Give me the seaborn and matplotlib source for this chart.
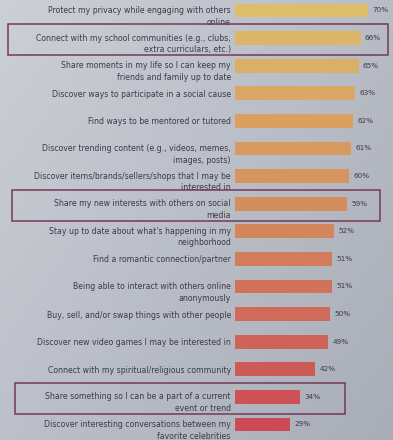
import matplotlib
matplotlib.use("Agg")
import matplotlib.pyplot as plt
import matplotlib.patches as mpatches
import matplotlib.transforms as mtransforms
import numpy as np
import pandas as pd
import seaborn as sns

reasons = [
    "Protect my privacy while engaging with others\nonline",
    "Connect with my school communities (e.g., clubs,\nextra curriculars, etc.)",
    "Share moments in my life so I can keep my\nfriends and family up to date",
    "Discover ways to participate in a social cause",
    "Find ways to be mentored or tutored",
    "Discover trending content (e.g., videos, memes,\nimages, posts)",
    "Discover items/brands/sellers/shops that I may be\ninterested in",
    "Share my new interests with others on social\nmedia",
    "Stay up to date about what's happening in my\nneighborhood",
    "Find a romantic connection/partner",
    "Being able to interact with others online\nanonymously",
    "Buy, sell, and/or swap things with other people",
    "Discover new video games I may be interested in",
    "Connect with my spiritual/religious community",
    "Share something so I can be a part of a current\nevent or trend",
    "Discover interesting conversations between my\nfavorite celebrities",
]
shares = [70, 66, 65, 63, 62, 61, 60, 59, 52, 51, 51, 50, 49, 42, 34, 29]
highlighted = [
    "Connect with my school communities (e.g., clubs,\nextra curriculars, etc.)",
    "Share my new interests with others on social\nmedia",
    "Share something so I can be a part of a current\nevent or trend",
]

df = pd.DataFrame({"reason": reasons, "share": shares})

sns.set_theme(style="white")
text_col = "#3a3b48"

fig = plt.figure(figsize=(3.93, 4.40), dpi=100)

# soft light-to-dark backdrop behind the chart
bg_ax = fig.add_axes([0, 0, 1, 1], zorder=-1)
yy, xx = np.mgrid[0:1:120j, 0:1:120j]
t = np.clip(0.55 * xx + 0.45 * yy, 0, 1)[..., None]
top = np.array([204, 207, 214]) / 255
bottom = np.array([168, 173, 183]) / 255
bg_ax.imshow(top * (1 - t) + bottom * t, aspect="auto", extent=(0, 1, 0, 1),
             origin="upper")
bg_ax.set_axis_off()

ax = fig.add_axes([0.598, 0.004, 0.402, 1.0035])
ax.patch.set_alpha(0)

palette = sns.blend_palette(["#dcbd6a", "#d9a262", "#d48a5c", "#d0685a", "#cc4a56"],
                            len(reasons))
sns.barplot(data=df, x="share", y="reason", hue="reason", palette=palette,
            legend=False, orient="h", width=0.5, saturation=1, linewidth=0,
            ax=ax)

ax.set_xlim(0, 83)
ax.set_ylim(len(reasons) - 0.5, -0.5)
ax.set_xlabel("")
ax.set_ylabel("")
ax.set_xticks([])
sns.despine(ax=ax, left=True, bottom=True)
ax.tick_params(axis="y", length=0, pad=3)
shift_down = mtransforms.ScaledTranslation(0, -2.6 / 72, fig.dpi_scale_trans)
for lbl in ax.get_yticklabels():
    lbl.set_fontsize(5.6)
    lbl.set_color(text_col)
    lbl.set_linespacing(1.35)
    if "\n" in lbl.get_text():
        lbl.set_transform(lbl.get_transform() + shift_down)

for cont in ax.containers:
    ax.bar_label(cont, labels=[f"{v:.0f}%" for v in cont.datavalues],
                 padding=3, fontsize=5.2, color=text_col)

# outline boxes around the highlighted reasons
trans = mtransforms.blended_transform_factory(fig.transFigure, ax.transData)
box_x = {0: (0.02, 0.987), 1: (0.03, 0.968), 2: (0.038, 0.878)}
for k, name in enumerate(highlighted):
    i = reasons.index(name)
    x0, x1 = box_x[k]
    rect = mpatches.Rectangle((x0, i - 0.5), x1 - x0, 1.12, transform=trans,
                              fill=False, edgecolor="#74385a", linewidth=1.1,
                              clip_on=False)
    fig.add_artist(rect)

fig.savefig("out.png", dpi=100)
